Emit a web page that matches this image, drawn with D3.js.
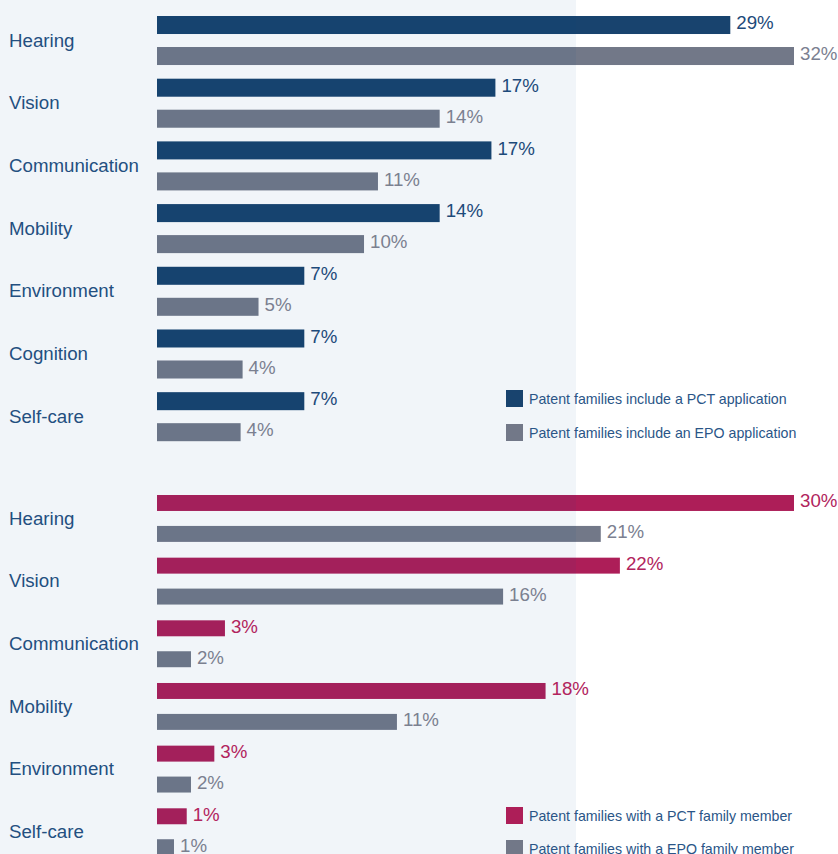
<!DOCTYPE html>
<html>
<head>
<meta charset="utf-8">
<script src="https://cdn.jsdelivr.net/npm/d3@7"></script>
<style>
  html, body { margin: 0; padding: 0; background: #ffffff; }
  svg { display: block; font-family: "Liberation Sans", Arial, Helvetica, sans-serif; }
</style>
</head>
<body>
<svg id="chart" width="838" height="854"></svg>
<script>
// Share of patent families per functional domain (%)
const appCategories = ["Hearing", "Vision", "Communication", "Mobility", "Environment", "Cognition", "Self-care"];
const appPct = [28.8, 17.0, 16.8, 14.2, 7.4, 7.4, 7.4];
const appEpo = [32.0, 14.2, 11.1, 10.4, 5.1, 4.3, 4.2];

const memberCategories = ["Hearing", "Vision", "Communication", "Mobility", "Environment", "Self-care"];
const memberPct = [30.0, 21.8, 3.2, 18.3, 2.7, 1.4];
const memberEpo = [20.9, 16.3, 1.6, 11.3, 1.6, 0.8];

const appLegend = ["Patent families include a PCT application", "Patent families include an EPO application"];
const memberLegend = ["Patent families with a PCT family member", "Patent families with a EPO family member"];

const C = {
  blue: "#18436e", grey: "#727888", magenta: "#ad1e58",
  blueText: "#1d4a7a", greyText: "#7b8090", magentaText: "#b1245d",
  label: "#234f80", legend: "#2a5587"
};
const FONT = 18.7;

const svg = d3.select("#chart");
const barLayer = svg.append("g");
const shadeLayer = svg.append("g");
const textLayer = svg.append("g");

function panel(cfg) {
  const rows = cfg.categories.map((c, i) => ({ cat: c, pct: cfg.pct[i], epo: cfg.epo[i] }));
  const x = d3.scaleLinear()
    .domain([0, d3.max(rows, d => Math.max(d.pct, d.epo))])
    .range([157, 794]);
  const y = d3.scaleBand().domain(cfg.categories)
    .range(cfg.yRange).paddingInner(cfg.padOuterGroup).paddingOuter(0);
  const sub = d3.scaleBand().domain(["pct", "epo"])
    .range([0, y.bandwidth()]).paddingInner(cfg.padInner).paddingOuter(0);

  const series = [
    { key: "pct", fill: cfg.pctColor, text: cfg.pctText },
    { key: "epo", fill: C.grey, text: C.greyText }
  ];

  series.forEach(s => {
    barLayer.selectAll(null).data(rows).join("rect")
      .attr("x", x(0))
      .attr("y", d => y(d.cat) + sub(s.key))
      .attr("width", d => x(d[s.key]) - x(0))
      .attr("height", sub.bandwidth())
      .attr("fill", s.fill);

    textLayer.selectAll(null).data(rows).join("text")
      .attr("x", d => x(d[s.key]) + 6)
      .attr("y", d => y(d.cat) + sub(s.key) + sub.bandwidth() / 2 + 4.3)
      .attr("font-size", FONT)
      .attr("fill", s.text)
      .text(d => d3.format(".0f")(d[s.key]) + "%");
  });

  textLayer.selectAll(null).data(rows).join("text")
    .attr("x", 9)
    .attr("y", d => y(d.cat) + y.bandwidth() / 2 + 6.2)
    .attr("font-size", FONT)
    .attr("fill", C.label)
    .text(d => d.cat);

  const lg = textLayer.append("g").attr("transform", `translate(506,${cfg.legendY})`);
  cfg.legend.forEach((t, i) => {
    const g = lg.append("g").attr("transform", `translate(0,${i * cfg.legendStep})`);
    g.append("rect").attr("width", 17).attr("height", 17)
      .attr("fill", i === 0 ? cfg.pctColor : C.grey);
    g.append("text").attr("x", 23).attr("y", 13.5)
      .attr("font-size", 14.2).attr("fill", C.legend).text(t);
  });
}

panel({
  categories: appCategories, pct: appPct, epo: appEpo,
  yRange: [16, 441.2], padOuterGroup: 0.218, padInner: 0.419,
  pctColor: C.blue, pctText: C.blueText,
  legend: appLegend, legendY: 390, legendStep: 34
});

panel({
  categories: memberCategories, pct: memberPct, epo: memberEpo,
  yRange: [495, 855.2], padOuterGroup: 0.2516, padInner: 0.484,
  pctColor: C.magenta, pctText: C.magentaText,
  legend: memberLegend, legendY: 807, legendStep: 33
});

// Tinted band over the left part of the chart
shadeLayer.append("rect")
  .attr("x", 0).attr("y", 0).attr("width", 576).attr("height", 854)
  .attr("fill", "rgb(0,73,146)").attr("fill-opacity", 0.055);
</script>
</body>
</html>
